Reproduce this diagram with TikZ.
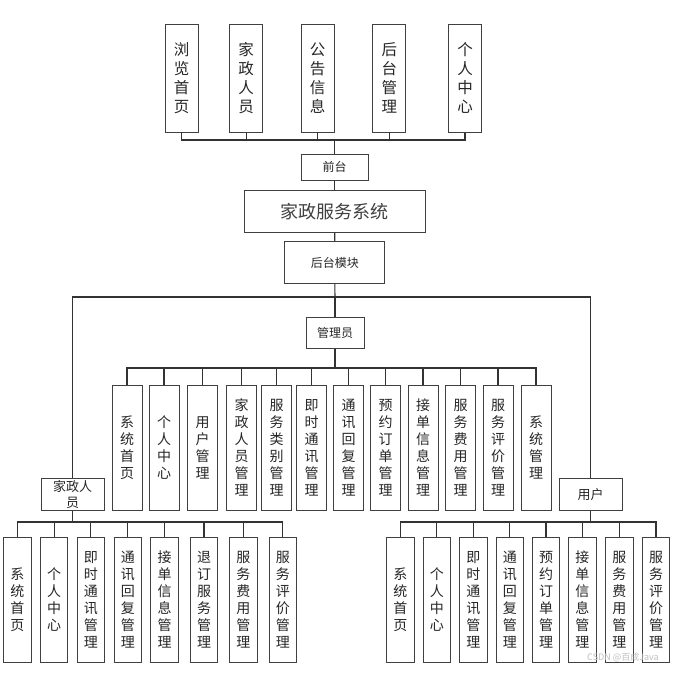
\documentclass[tikz,border=0pt]{standalone}
\usepackage{fontspec}
\setmainfont{Noto Sans CJK SC}
\begin{document}
\begin{tikzpicture}[x=1pt,y=-1pt,
  box/.style={draw=black!75, line width=1pt, inner sep=0pt, align=center, fill=white, text=black!85},
  topbox/.style={box, minimum width=33pt, minimum height=108pt, font=\fontsize{15.5}{19}\selectfont},
  kidbox/.style={box, minimum width=30pt, minimum height=125pt, font=\fontsize{14}{17}\selectfont},
  lowbox/.style={box, minimum width=27.5pt, minimum height=125pt, font=\fontsize{14}{17}\selectfont},
  smallbox/.style={box, font=\fontsize{12}{14}\selectfont},
  conn/.style={draw=black!80, line width=1.1pt}
]
\useasboundingbox (0,0) rectangle (682,672);

% top row
\node[topbox] (t1) at (181.7,78) {浏\\览\\首\\页};
\node[topbox] (t2) at (246.2,78) {家\\政\\人\\员};
\node[topbox] (t3) at (317.7,78) {公\\告\\信\\息};
\node[topbox] (t4) at (389.3,78) {后\\台\\管\\理};
\node[topbox] (t5) at (465,78) {个\\人\\中\\心};

\node[smallbox, minimum width=67pt, minimum height=26pt] (qt) at (334.7,167.2) {前台};
\node[box, minimum width=181pt, minimum height=42pt, font=\fontsize{18}{20}\selectfont, text=black!75] (sys) at (334.7,211.2) {家政服务系统};
\node[smallbox, minimum width=100pt, minimum height=42pt] (hm) at (334.8,262.5) {后台模块};

\coordinate (tb) at (334.7,140);
\draw[conn] (t1.south) |- (tb);
\draw[conn] (t2.south) |- (tb);
\draw[conn] (t3.south) |- (tb);
\draw[conn] (t4.south) |- (tb);
\draw[conn] (t5.south) |- (tb);
\draw[conn] (tb) -- (qt.north);
\draw[conn] (qt.south) -- (sys.north);
\draw[conn] (sys.south) -- (hm.north);

% admin
\node[smallbox, minimum width=58pt, minimum height=31pt] (gly) at (335,332.5) {管理员};
\node[box, minimum width=63pt, minimum height=32pt, font=\fontsize{13}{16}\selectfont] (jz) at (72.7,494.5) {家政人\\员};
\node[box, minimum width=63pt, minimum height=32pt, font=\fontsize{13}{16}\selectfont] (yh) at (590.5,494.5) {用户};

\coordinate (mb) at (335,297);
\draw[conn] (hm.south) -- (mb);
\draw[conn] (mb) -- (gly.north);
\draw[conn] (jz.north) |- (mb);
\draw[conn] (mb) -| (yh.north);

\node[kidbox] (a1) at (127,447.5) {系\\统\\首\\页};
\node[kidbox] (a2) at (164,447.5) {个\\人\\中\\心};
\node[kidbox] (a3) at (202.5,447.5) {用\\户\\管\\理};
\node[kidbox] (a4) at (241.5,447.5) {家\\政\\人\\员\\管\\理};
\node[kidbox] (a5) at (276.5,447.5) {服\\务\\类\\别\\管\\理};
\node[kidbox] (a6) at (311.5,447.5) {即\\时\\通\\讯\\管\\理};
\node[kidbox] (a7) at (348.5,447.5) {通\\讯\\回\\复\\管\\理};
\node[kidbox] (a8) at (385.5,447.5) {预\\约\\订\\单\\管\\理};
\node[kidbox] (a9) at (423,447.5) {接\\单\\信\\息\\管\\理};
\node[kidbox] (a10) at (460.5,447.5) {服\\务\\费\\用\\管\\理};
\node[kidbox] (a11) at (498,447.5) {服\\务\\评\\价\\管\\理};
\node[kidbox] (a12) at (536,447.5) {系\\统\\管\\理};

\coordinate (ab) at (335,368);
\draw[conn] (gly.south) -- (ab);
\foreach \i in {1,...,12} {\draw[conn] (a\i.north) |- (ab);}

% housekeeper
\node[lowbox] (l1) at (17.3,599.5) {系\\统\\首\\页};
\node[lowbox] (l2) at (54.2,599.5) {个\\人\\中\\心};
\node[lowbox] (l3) at (90.8,599.5) {即\\时\\通\\讯\\管\\理};
\node[lowbox] (l4) at (127.8,599.5) {通\\讯\\回\\复\\管\\理};
\node[lowbox] (l5) at (164.7,599.5) {接\\单\\信\\息\\管\\理};
\node[lowbox] (l6) at (204,599.5) {退\\订\\服\\务\\管\\理};
\node[lowbox] (l7) at (243.3,599.5) {服\\务\\费\\用\\管\\理};
\node[lowbox] (l8) at (282.8,599.5) {服\\务\\评\\价\\管\\理};

\coordinate (lb) at (72.7,522);
\draw[conn] (jz.south) -- (lb);
\foreach \i in {1,...,8} {\draw[conn] (l\i.north) |- (lb);}

% user
\node[lowbox] (r1) at (400.3,599.5) {系\\统\\首\\页};
\node[lowbox] (r2) at (436.8,599.5) {个\\人\\中\\心};
\node[lowbox] (r3) at (473.3,599.5) {即\\时\\通\\讯\\管\\理};
\node[lowbox] (r4) at (509.8,599.5) {通\\讯\\回\\复\\管\\理};
\node[lowbox] (r5) at (546,599.5) {预\\约\\订\\单\\管\\理};
\node[lowbox] (r6) at (582.3,599.5) {接\\单\\信\\息\\管\\理};
\node[lowbox] (r7) at (619.3,599.5) {服\\务\\费\\用\\管\\理};
\node[lowbox] (r8) at (656,599.5) {服\\务\\评\\价\\管\\理};

\coordinate (rb) at (590.5,522);
\draw[conn] (yh.south) -- (rb);
\foreach \i in {1,...,8} {\draw[conn] (r\i.north) |- (rb);}

% watermark
\node[text=black!25, font=\fontsize{9}{10}\selectfont, inner sep=0pt] (wm) at (623,657) {CSDN @百成Java};
\end{tikzpicture}
\end{document}
